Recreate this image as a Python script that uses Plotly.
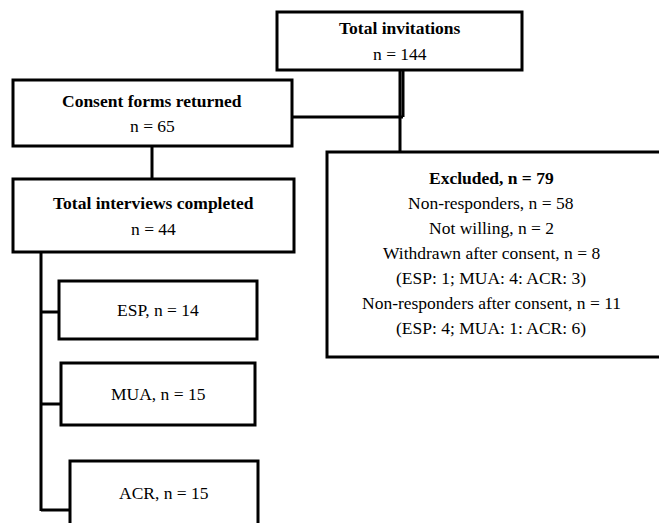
import plotly.graph_objects as go

# ---- content ----
top_title = "Total invitations"
top_n = 144
consent_title = "Consent forms returned"
consent_n = 65
interview_title = "Total interviews completed"
interview_n = 44
group_names = ["ESP", "MUA", "ACR"]
group_n = [14, 15, 15]
excluded_n = 79
excluded_lines = [
    "Non-responders, n = 58",
    "Not willing, n = 2",
    "Withdrawn after consent, n = 8",
    "(ESP: 1; MUA: 4: ACR: 3)",
    "Non-responders after consent, n = 11",
    "(ESP: 4; MUA: 1: ACR: 6)",
]

W, H = 667, 523
OFF = 8  # page body margin
FONT = "Liberation Serif"
FS = 17.5
LW = 3

fig = go.Figure()
fig.add_trace(go.Scatter(x=[OFF, W], y=[OFF, H], mode="markers",
                         marker=dict(opacity=0), hoverinfo="skip", showlegend=False))

shapes = []
def box(x0, y0, x1, y1):
    shapes.append(dict(type="rect", xref="x", yref="y", x0=x0, y0=y0, x1=x1, y1=y1,
                       line=dict(color="black", width=LW), fillcolor="white", layer="above"))
def line(x0, y0, x1, y1, w=LW):
    shapes.append(dict(type="line", xref="x", yref="y", x0=x0, y0=y0, x1=x1, y1=y1,
                       line=dict(color="black", width=w), layer="below"))

# connectors
line(400, 70, 400, 117)
line(403, 70, 403, 117)
line(292, 117, 403, 117)
line(400, 117, 400, 152)
line(152, 146, 152, 179)
line(41, 252, 41, 511)
line(41, 312, 59, 312)
line(41, 404, 61, 404)
line(41, 510, 70, 510)

# boxes
box(277, 12, 522, 70)
box(13, 80, 292, 146)
box(13, 179, 294, 252)
box(327, 152, 680, 357)
box(59, 281, 257, 339)
box(61, 363, 255, 425)
box(70, 461, 258, 540)

ann = []
def text(x, y, s, bold=False, size=FS):
    if bold:
        s = "<b>" + s + "</b>"
    ann.append(dict(x=x, y=y, xref="x", yref="y", text=s, showarrow=False,
                    xanchor="center", yanchor="middle",
                    font=dict(family=FONT, size=size, color="black")))

text(400, 28, top_title, bold=True)
text(400, 54, f"n = {top_n}")
text(152, 101, consent_title, bold=True)
text(152, 126, f"n = {consent_n}")
text(153, 203, interview_title, bold=True)
text(153, 229, f"n = {interview_n}")

group_y = [310, 394, 493]
group_x = [158, 158, 164]
for name, n, gx, gy in zip(group_names, group_n, group_x, group_y):
    text(gx, gy, f"{name}, n = {n}")

text(491, 178, f"Excluded, n = {excluded_n}", bold=True)
for i, s in enumerate(excluded_lines):
    text(491, 203 + 25 * i, s)

fig.update_layout(
    width=W - OFF, height=H - OFF, margin=dict(l=0, r=0, t=0, b=0),
    paper_bgcolor="white", plot_bgcolor="white",
    xaxis=dict(range=[OFF, W], visible=False, fixedrange=True),
    yaxis=dict(range=[H, OFF], visible=False, fixedrange=True),
    shapes=shapes, annotations=ann, showlegend=False,
)
fig.write_html("out.html")
